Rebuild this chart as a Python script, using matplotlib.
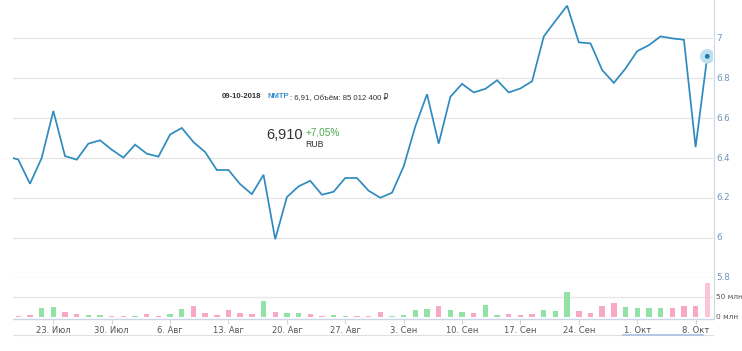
import matplotlib
matplotlib.use("Agg")
import matplotlib.pyplot as plt
import pandas as pd
import numpy as np

# ---- data ----
dates = pd.bdate_range("2018-07-17", "2018-10-09")  # trading days
prices = [6.41,
          6.392, 6.271, 6.400, 6.636, 6.410, 6.392, 6.472, 6.489, 6.442, 6.402,
          6.467, 6.422, 6.407, 6.518, 6.551, 6.480, 6.430, 6.340, 6.340, 6.269,
          6.219, 6.316, 5.993, 6.204, 6.258, 6.286, 6.216, 6.231, 6.300, 6.300,
          6.236, 6.201, 6.226, 6.358, 6.559, 6.720, 6.472, 6.707, 6.772, 6.729,
          6.747, 6.790, 6.729, 6.749, 6.785, 7.010, 7.088, 7.164, 6.980, 6.975,
          6.841, 6.777, 6.849, 6.936, 6.966, 7.010, 7.000, 6.993, 6.455, 6.910]
volumes = [3,
           3, 4, 23, 25, 11, 6, 5, 5, 3, 3,
           2, 7, 3, 7, 19, 27, 9, 5, 18, 9,
           6, 40, 11, 10, 9, 7, 2, 5, 3, 2,
           2, 11, 2, 5, 18, 20, 26, 17, 12, 10,
           30, 5, 6, 5, 7, 17, 14, 62, 15, 10,
           28, 36, 25, 23, 21, 22, 21, 28, 26, 85.0124]
vol_dir = ["d",
           "d", "d", "u", "u", "d", "d", "u", "u", "d", "d",
           "u", "d", "d", "u", "u", "d", "d", "d", "d", "d",
           "d", "u", "d", "u", "u", "d", "d", "u", "u", "d",
           "d", "d", "u", "u", "u", "u", "d", "u", "u", "d",
           "u", "u", "d", "d", "d", "u", "u", "u", "d", "d",
           "d", "d", "u", "u", "u", "u", "d", "d", "d", "h"]
tick_labels = ["23. Июл", "30. Июл", "6. Авг", "13. Авг", "20. Авг", "27. Авг",
               "3. Сен", "10. Сен", "17. Сен", "24. Сен", "1. Окт", "8. Окт"]
price_ticks = [5.8, 6.0, 6.2, 6.4, 6.6, 6.8, 7.0]
price_tick_labels = ["5.8", "6", "6.2", "6.4", "6.6", "6.8", "7"]
vol_ticks = [0, 50]
vol_tick_labels = ["0 млн", "50 млн"]

# ---- figure ----
W, H = 742, 351
fig = plt.figure(figsize=(W / 100, H / 100), dpi=100)
fig.patch.set_facecolor("white")

def fx(px):
    return px / W

def fy(py):
    return 1 - py / H

x = np.arange(len(prices)) - 1  # index 0 = 18 Jul
xmin, xmax = -0.454, 59.49
left, right = 13, 713

# price panel
ax = fig.add_axes([fx(left), fy(277.7), fx(right - left), 277.7 / H])
ax.set_xlim(xmin, xmax)
ax.set_ylim(5.8, 7.0 + 38.3 / 199)
for t in price_ticks:
    ax.axhline(t, color="#e6e6e6", lw=1.0, zorder=0)
ax.plot(x, prices, color="#2f8bbf", lw=1.25, zorder=3, solid_joinstyle="miter")
ax.scatter([x[-1]], [prices[-1]], s=110, color="#bfe0f0", zorder=4, edgecolors="none")
ax.scatter([x[-1]], [prices[-1]], s=12, color="#1f7ab0", zorder=5, edgecolors="none")
ax.set_xticks([])
ax.set_yticks([])
for s in ax.spines.values():
    s.set_visible(False)
ax.patch.set_alpha(0)
for t, lab in zip(price_ticks, price_tick_labels):
    ax.annotate(lab, (xmax, t), xytext=(2.2, 0), textcoords="offset points",
                ha="left", va="center", fontsize=6.3, color="#6f93bb",
                family="DejaVu Sans", annotation_clip=False)

# volume panel
vtop = 282.0
axv = fig.add_axes([fx(left), fy(316.7), fx(right - left), (316.7 - vtop) / H])
axv.set_xlim(xmin, xmax)
axv.set_ylim(0, 50 * (316.7 - vtop) / 19.7)
axv.axhline(50, color="#e6e6e6", lw=1.0, zorder=0)
cmap = {"u": "#92e2a8", "d": "#f6a8c4", "h": "#fbc4d7"}
axv.bar(x, volumes, width=0.46, color=[cmap[c] for c in vol_dir], zorder=2)
axv.set_xticks([])
axv.set_yticks([])
for s in axv.spines.values():
    s.set_visible(False)
axv.patch.set_alpha(0)
for t, lab in zip(vol_ticks, vol_tick_labels):
    axv.annotate(lab, (xmax, t), xytext=(2.2, 0), textcoords="offset points",
                 ha="left", va="center", fontsize=5.3, color="#555555",
                 family="DejaVu Sans", annotation_clip=False)

# x axis line + ticks + labels
axx = fig.add_axes([fx(left), fy(319.3), fx(right - left), 0.001])
axx.set_xlim(xmin, xmax)
axx.set_ylim(0, 1)
axx.set_yticks([])
for k in ["left", "right", "top"]:
    axx.spines[k].set_visible(False)
axx.spines["bottom"].set_color("#ccd6eb")
axx.spines["bottom"].set_linewidth(1.0)
mondays = [i - 1 for i, d in enumerate(dates) if d.weekday() == 0]
axx.set_xticks(mondays)
axx.set_xticklabels(tick_labels, fontsize=6, color="#555555", family="DejaVu Sans")
axx.tick_params(axis="x", length=3.5, width=0.8, color="#ccd6eb", pad=1.2)
axx.patch.set_alpha(0)

# right axis line
fig.add_artist(plt.Line2D([fx(713.5), fx(713.5)], [fy(0), fy(319)],
                          color="#ccd6eb", lw=0.8))
# navigator line
fig.add_artist(plt.Line2D([fx(13), fx(713)], [fy(334.8), fy(334.8)],
                          color="#e0e0e0", lw=0.8))
fig.add_artist(plt.Line2D([fx(623), fx(703)], [fy(334.8), fy(334.8)],
                          color="#a9bfe3", lw=1.2))

# tooltip / header text
fam = ["Liberation Sans", "DejaVu Sans"]
fig.text(fx(222), fy(97), "09-10-2018", fontsize=5.6, fontweight="bold",
         color="#333333", family=fam, va="center", ha="left")
fig.text(fx(268), fy(97), "NMTP", fontsize=5.6, fontweight="bold",
         color="#3a8fd0", family=fam, va="center", ha="left")
fig.text(fx(290), fy(97), ": 6,91, Объём: 85 012 400 ₽", fontsize=5.6,
         color="#333333", family=fam, va="center", ha="left")
fig.text(fx(266), fy(134.5), "6,910", fontsize=10.5, color="#333333",
         family=fam, va="center", ha="left")
fig.text(fx(305.5), fy(132.5), "+7,05%", fontsize=7.2, color="#4aa84a",
         family=fam, va="center", ha="left")
fig.text(fx(305.5), fy(145), "RUB", fontsize=6.3, color="#333333",
         family=fam, va="center", ha="left")

fig.savefig("out.png", dpi=100, facecolor="white")
